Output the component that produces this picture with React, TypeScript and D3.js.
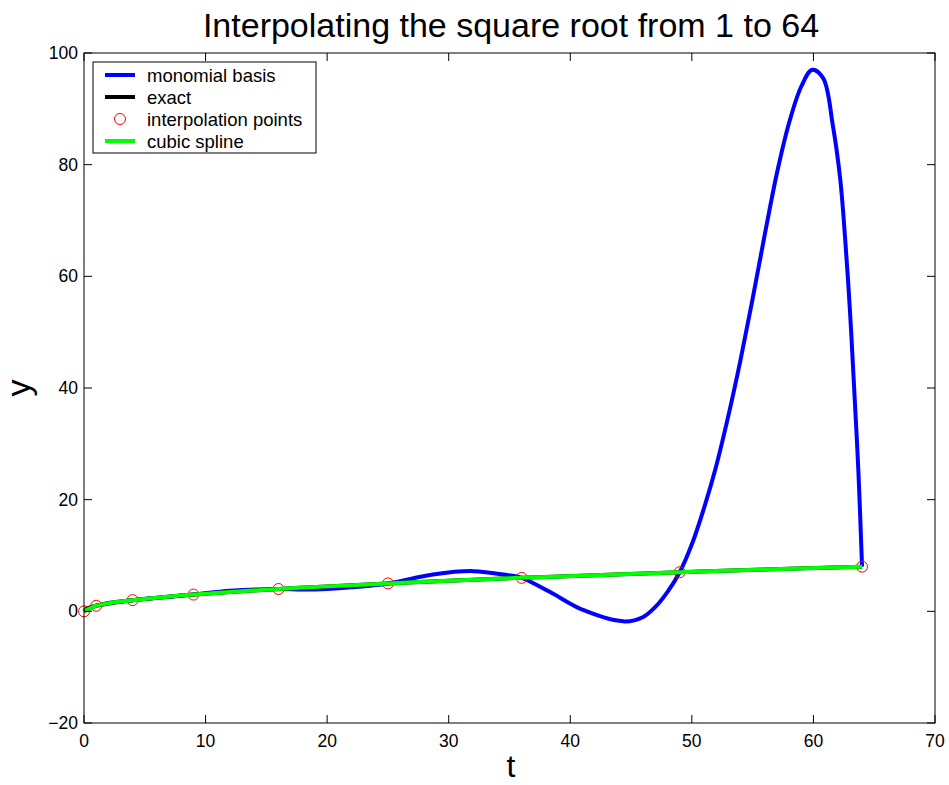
import React from "react";
import * as d3 from "d3";

// values
const sampleT = [0, 1, 4, 9, 16, 25, 36, 49, 64];
const sampleY = [0, 1, 2, 3, 4, 5, 6, 7, 8];

const monoT = [0, 1, 2, 4, 6.5, 9, 12, 16, 18, 20, 22, 25, 28.7, 32, 34.8, 36, 38.3, 41.1, 44.5, 46, 47, 48, 49, 50, 51, 52, 53, 54, 55, 56, 57, 58, 59, 59.9, 60.8, 61.6, 62.2, 62.6, 63, 63.3, 63.7, 64];
const monoY = [0, 1, 1.5, 2, 2.5, 3, 3.7, 4, 3.9, 4.0, 4.3, 5, 6.6, 7.2, 6.5, 6, 3.5, 0.2, -1.8, -1.0, 0.8, 3.5, 7, 12, 18.5, 26, 35, 45, 56, 67.5, 78.5, 87.5, 94, 97, 95.5, 87, 77.5, 67, 54, 42, 25, 8];

const exactT = [0, 0.25, 0.5, 1, 2, 3, 4, 6, 9, 12, 16, 20, 25, 30, 36, 42, 49, 56, 64];
const exactY = [0, 0.5, 0.71, 1, 1.41, 1.73, 2, 2.45, 3, 3.46, 4, 4.47, 5, 5.48, 6, 6.48, 7, 7.48, 8];

const splineT = [0, 0.5, 1, 2, 3, 4, 6, 9, 12, 16, 20, 25, 30, 36, 42, 49, 56, 64];
const splineY = [0, 0.55, 1, 1.45, 1.75, 2, 2.45, 3, 3.47, 4, 4.47, 5, 5.48, 6, 6.48, 7, 7.48, 8];

const legendLabels = ["monomial basis", "exact", "interpolation points", "cubic spline"];
const legendColors = ["#0000ff", "#000000", "#ff0000", "#00ff00"];

const W = 949;
const H = 785;
const font = "'Liberation Sans', Arial, Helvetica, sans-serif";

export default function App() {
  const x = d3.scaleLinear().domain([0, 70]).range([84, 935]);
  const y = d3.scaleLinear().domain([-20, 100]).range([723, 53]);
  const line = d3
    .line<[number, number]>()
    .x((d) => x(d[0]))
    .y((d) => y(d[1]))
    .curve(d3.curveCatmullRom.alpha(0.5));

  const mono = monoT.map((t, i) => [t, monoY[i]] as [number, number]);
  const exact = exactT.map((t, i) => [t, exactY[i]] as [number, number]);
  const spline = splineT.map((t, i) => [t, splineY[i]] as [number, number]);

  const fmt = y.tickFormat(6);
  const xTicks = x.ticks(7);
  const yTicks = y.ticks(6);
  const [x0, x1] = x.range();
  const [y0, y1] = y.range();
  const tk = 8;

  const legendRowY = [75, 97, 119, 141];

  return (
    <svg
      width={W}
      height={H}
      style={{ position: "absolute", left: 0, top: 0, background: "#fff" }}
      fontFamily={font}
    >
      <rect x={0} y={0} width={W} height={H} fill="#fff" />

      <path d={line(mono) || ""} fill="none" stroke="#0000ff" strokeWidth={4} />
      <path d={line(exact) || ""} fill="none" stroke="#000" strokeWidth={4} />
      {sampleT.map((t, i) => (
        <circle key={i} cx={x(t)} cy={y(sampleY[i])} r={5.5} fill="none" stroke="#ff0000" strokeWidth={1} />
      ))}
      <path d={line(spline) || ""} fill="none" stroke="#00ff00" strokeWidth={4} />

      {/* axes box and ticks */}
      <rect x={x0} y={y1} width={x1 - x0} height={y0 - y1} fill="none" stroke="#000" strokeWidth={1} />
      {xTicks.map((t) => (
        <g key={"x" + t}>
          <line x1={x(t)} x2={x(t)} y1={y0} y2={y0 - tk} stroke="#000" />
          <line x1={x(t)} x2={x(t)} y1={y1} y2={y1 + tk} stroke="#000" />
          <text x={x(t)} y={747} textAnchor="middle" fontSize={17.5}>
            {fmt(t)}
          </text>
        </g>
      ))}
      {yTicks.map((v) => (
        <g key={"y" + v}>
          <line x1={x0} x2={x0 + tk} y1={y(v)} y2={y(v)} stroke="#000" />
          <line x1={x1} x2={x1 - tk} y1={y(v)} y2={y(v)} stroke="#000" />
          <text x={78} y={y(v) + 6} textAnchor="end" fontSize={17.5}>
            {fmt(v)}
          </text>
        </g>
      ))}

      <text x={511} y={37} textAnchor="middle" fontSize={34}>
        Interpolating the square root from 1 to 64
      </text>
      <text x={511} y={777} textAnchor="middle" fontSize={32}>
        t
      </text>
      <text transform="translate(30,388) rotate(-90)" textAnchor="middle" fontSize={34}>
        y
      </text>

      {/* legend */}
      <rect x={93} y={62} width={223} height={91} fill="#fff" stroke="#000" strokeWidth={1} />
      {legendLabels.map((lab, i) => (
        <g key={lab}>
          {i === 2 ? (
            <circle cx={120} cy={legendRowY[i]} r={5.5} fill="none" stroke={legendColors[i]} />
          ) : (
            <line x1={105} x2={135} y1={legendRowY[i]} y2={legendRowY[i]} stroke={legendColors[i]} strokeWidth={4} />
          )}
          <text x={147} y={legendRowY[i] + 6.5} fontSize={18.5}>
            {lab}
          </text>
        </g>
      ))}
    </svg>
  );
}
